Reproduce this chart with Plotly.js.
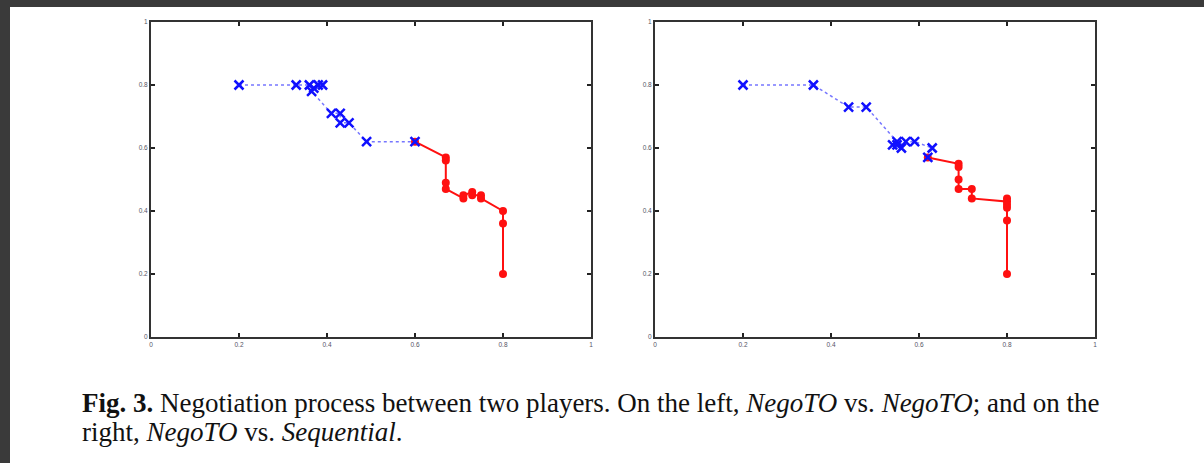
<!DOCTYPE html>
<html>
<head>
<meta charset="utf-8">
<script src="https://cdn.plot.ly/plotly-3.0.1.min.js"></script>
<style>
html,body{margin:0;padding:0;background:#3a3a3a;}
#chart{width:1204px;height:463px;}
</style>
</head>
<body>
<div id="chart"></div>
<script>
// Left panel: NegoTO vs NegoTO
const leftBlueX = [0.20, 0.33, 0.36, 0.37, 0.38, 0.39, 0.365, 0.41, 0.43, 0.43, 0.45, 0.49, 0.60];
const leftBlueY = [0.80, 0.80, 0.80, 0.79, 0.80, 0.80, 0.78, 0.71, 0.71, 0.68, 0.68, 0.62, 0.62];
const leftRedX = [0.60, 0.67, 0.67, 0.67, 0.67, 0.71, 0.71, 0.73, 0.73, 0.75, 0.75, 0.80, 0.80, 0.80];
const leftRedY = [0.62, 0.57, 0.56, 0.49, 0.47, 0.44, 0.45, 0.46, 0.45, 0.45, 0.44, 0.40, 0.36, 0.20];
// Right panel: NegoTO vs Sequential
const rightBlueX = [0.20, 0.36, 0.44, 0.48, 0.55, 0.54, 0.56, 0.55, 0.57, 0.59, 0.63, 0.62];
const rightBlueY = [0.80, 0.80, 0.73, 0.73, 0.62, 0.61, 0.60, 0.61, 0.62, 0.62, 0.60, 0.57];
const rightRedX = [0.62, 0.69, 0.69, 0.69, 0.69, 0.72, 0.72, 0.80, 0.80, 0.80, 0.80, 0.80, 0.80];
const rightRedY = [0.57, 0.55, 0.54, 0.50, 0.47, 0.47, 0.44, 0.43, 0.44, 0.42, 0.41, 0.37, 0.20];
const tickVals = [0, 0.2, 0.4, 0.6, 0.8, 1];
const tickText = ["0", "0.2", "0.4", "0.6", "0.8", "1"];
const captionLine1 = "<b>Fig. 3.</b> Negotiation process between two players. On the left, <i>NegoTO</i> vs. <i>NegoTO</i>; and on the";
const captionLine2 = "right, <i>NegoTO</i> vs. <i>Sequential</i>.";

const W = 1204, H = 463;
const blueStyle = {
  mode: 'lines+markers',
  line: {color: 'rgba(60,60,255,0.7)', width: 1.5, dash: 'dot'},
  marker: {symbol: 'x-thin', size: 9, color: '#1010ff', line: {color: '#1010ff', width: 2.5}}
};
const redStyle = {
  mode: 'lines+markers',
  line: {color: '#ff1010', width: 2},
  marker: {symbol: 'circle', size: 8, color: '#ff1010'}
};
const traces = [
  Object.assign({x: leftRedX, y: leftRedY, xaxis: 'x', yaxis: 'y'}, redStyle),
  Object.assign({x: leftBlueX, y: leftBlueY, xaxis: 'x', yaxis: 'y'}, blueStyle),
  Object.assign({x: rightRedX, y: rightRedY, xaxis: 'x2', yaxis: 'y2'}, redStyle),
  Object.assign({x: rightBlueX, y: rightBlueY, xaxis: 'x2', yaxis: 'y2'}, blueStyle)
];

function ax(domain, anchor) {
  return {
    domain: domain, anchor: anchor, range: [0, 1],
    tickvals: tickVals, ticktext: tickText,
    ticks: 'inside', ticklen: 4, tickwidth: 1.5, tickcolor: '#222',
    showline: true, linecolor: '#333', linewidth: 2, mirror: 'ticks',
    showgrid: false, zeroline: false,
    tickfont: {family: 'Liberation Sans, Arial', size: 6.5, color: '#556'}
  };
}
const yDom = [1 - 337 / H, 1 - 22 / H];
const captionFont = {family: 'Liberation Serif, Times New Roman, serif', size: 27, color: '#111'};
const layout = {
  width: W, height: H,
  margin: {l: 0, r: 0, t: 0, b: 0},
  paper_bgcolor: '#3a3a3a',
  plot_bgcolor: 'rgba(0,0,0,0)',
  showlegend: false,
  xaxis: ax([151 / W, 591 / W], 'y'),
  yaxis: ax(yDom, 'x'),
  xaxis2: ax([655 / W, 1095 / W], 'y2'),
  yaxis2: ax(yDom, 'x2'),
  shapes: [{
    type: 'rect', xref: 'paper', yref: 'paper', layer: 'below',
    x0: 10 / W, x1: 1, y0: 0, y1: 1 - 7 / H,
    fillcolor: '#ffffff', line: {width: 0}
  }],
  annotations: [
    {text: captionLine1, xref: 'paper', yref: 'paper', x: 80 / W, y: 1 - 403 / H,
     xanchor: 'left', yanchor: 'middle', showarrow: false, font: captionFont},
    {text: captionLine2, xref: 'paper', yref: 'paper', x: 80 / W, y: 1 - 432 / H,
     xanchor: 'left', yanchor: 'middle', showarrow: false, font: captionFont}
  ]
};
Plotly.newPlot('chart', traces, layout, {staticPlot: true, displayModeBar: false});
</script>
</body>
</html>
